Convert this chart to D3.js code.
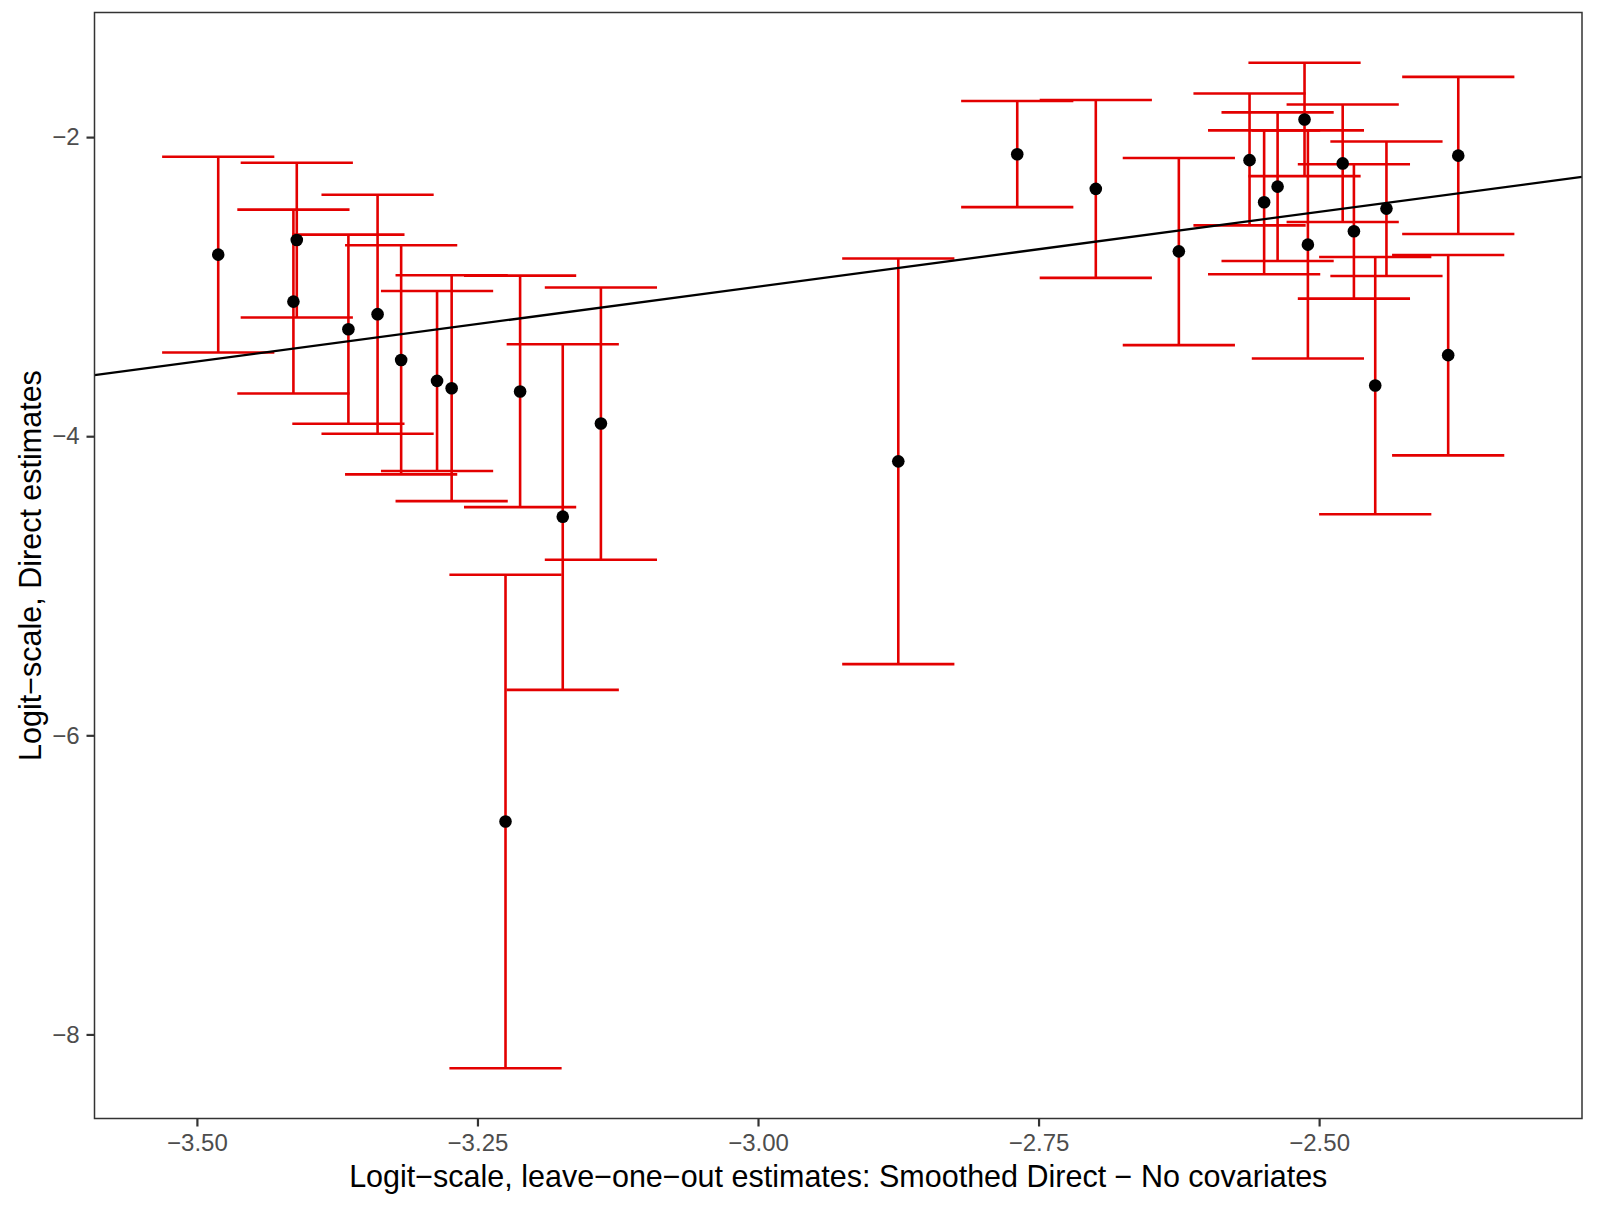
<!DOCTYPE html>
<html>
<head>
<meta charset="utf-8">
<script src="https://cdn.jsdelivr.net/npm/d3@7"></script>
<style>
  body { margin: 0; background: #fff; }
  text { font-family: "Liberation Sans", Arial, Helvetica, sans-serif; }
</style>
</head>
<body>
<svg id="chart" width="1597" height="1208"></svg>
<script>

// Leave-one-out smoothed estimates (x) against direct estimates (y), logit scale
var looEst = [-3.481, -3.414, -3.411, -3.365, -3.339, -3.318, -3.286, -3.273, -3.225,
              -3.212, -3.174, -3.140, -2.875, -2.769, -2.699, -2.625, -2.562, -2.549,
              -2.537, -2.513, -2.510, -2.479, -2.469, -2.450, -2.440, -2.385, -2.376];
var directEst = [-2.786, -3.100, -2.688, -3.285, -3.184, -3.490, -3.630, -3.679, -6.576,
                 -3.701, -4.538, -3.915, -4.168, -2.115, -2.346, -2.764, -2.154, -2.436,
                 -2.331, -1.882, -2.719, -2.176, -2.630, -3.661, -2.478, -3.458, -2.124];
var directLower = [-3.440, -3.714, -3.206, -3.917, -3.984, -4.255, -4.233, -4.434, -8.226,
                   -4.474, -5.696, -4.826, -5.524, -2.468, -2.941, -3.391, -2.590, -2.917,
                   -2.828, -2.261, -3.480, -2.568, -3.080, -4.522, -2.929, -4.128, -2.648];
var directUpper = [-2.131, -2.485, -2.171, -2.652, -2.385, -2.723, -3.029, -2.924, -4.926,
                   -2.926, -3.385, -3.006, -2.812, -1.759, -1.752, -2.140, -1.708, -1.955,
                   -1.835, -1.503, -1.955, -1.782, -2.182, -2.802, -2.029, -2.788, -1.597];

var xTicks = [-3.5, -3.25, -3.0, -2.75, -2.5];
var yTicks = [-2, -4, -6, -8];

var xTitle = "Logit\u2212scale, leave\u2212one\u2212out estimates: Smoothed Direct \u2212 No covariates";
var yTitle = "Logit\u2212scale, Direct estimates";

// half width of the error bar caps, in data units
var capHalf = 0.05;

var data = looEst.map(function(x, i) {
  return { x: x, y: directEst[i], lo: directLower[i], hi: directUpper[i] };
});

var margin = { top: 12.5, right: 15, bottom: 89.5, left: 94.5 },
    W = 1597, H = 1208,
    w = W - margin.left - margin.right,
    h = H - margin.top - margin.bottom;

// ggplot style 5% expansion of the data range
function expand(lo, hi) {
  var pad = (hi - lo) * 0.05;
  return [lo - pad, hi + pad];
}

var xDom = expand(d3.min(data, function(d) { return d.x - capHalf; }),
                  d3.max(data, function(d) { return d.x + capHalf; }));
var yDom = expand(d3.min(data, function(d) { return d.lo; }),
                  d3.max(data, function(d) { return d.hi; }));

var x = d3.scaleLinear().domain(xDom).range([0, w]);
var y = d3.scaleLinear().domain(yDom).range([h, 0]);

var svg = d3.select("#chart");

var g = svg.append("g")
  .attr("transform", "translate(" + margin.left + "," + margin.top + ")");

g.append("defs").append("clipPath")
  .attr("id", "panel-clip")
  .append("rect")
  .attr("width", w)
  .attr("height", h);

var plot = g.append("g").attr("clip-path", "url(#panel-clip)");

//** Error bars **//

var bars = plot.selectAll(".ebar")
  .data(data)
  .enter().append("g")
  .attr("class", "ebar")
  .attr("stroke", "#e30000")
  .attr("stroke-width", 2.6)
  .attr("fill", "none");

bars.append("line")
  .attr("x1", function(d) { return x(d.x); })
  .attr("x2", function(d) { return x(d.x); })
  .attr("y1", function(d) { return y(d.lo); })
  .attr("y2", function(d) { return y(d.hi); });

bars.append("line")
  .attr("x1", function(d) { return x(d.x - capHalf); })
  .attr("x2", function(d) { return x(d.x + capHalf); })
  .attr("y1", function(d) { return y(d.hi); })
  .attr("y2", function(d) { return y(d.hi); });

bars.append("line")
  .attr("x1", function(d) { return x(d.x - capHalf); })
  .attr("x2", function(d) { return x(d.x + capHalf); })
  .attr("y1", function(d) { return y(d.lo); })
  .attr("y2", function(d) { return y(d.lo); });

//** Identity line y = x **//

plot.append("path")
  .datum(xDom)
  .attr("d", d3.line()
    .x(function(v) { return x(v); })
    .y(function(v) { return y(v); }))
  .attr("stroke", "#000")
  .attr("stroke-width", 2.3)
  .attr("fill", "none");

//** Points **//

plot.selectAll(".pt")
  .data(data)
  .enter().append("circle")
  .attr("class", "pt")
  .attr("cx", function(d) { return x(d.x); })
  .attr("cy", function(d) { return y(d.y); })
  .attr("r", 6.3)
  .attr("fill", "#000");

//** Panel border **//

g.append("rect")
  .attr("width", w)
  .attr("height", h)
  .attr("fill", "none")
  .attr("stroke", "#333")
  .attr("stroke-width", 1.5);

//** Axes **//

var xAxis = g.append("g")
  .attr("transform", "translate(0," + h + ")")
  .call(d3.axisBottom(x).tickValues(xTicks).tickFormat(d3.format(".2f"))
    .tickSize(8).tickPadding(7.5));

var yAxis = g.append("g")
  .call(d3.axisLeft(y).tickValues(yTicks).tickFormat(d3.format("d"))
    .tickSize(8).tickPadding(7));

[xAxis, yAxis].forEach(function(ax) {
  ax.select(".domain").remove();
  ax.selectAll(".tick line").attr("stroke", "#333").attr("stroke-width", 2.2);
  ax.selectAll(".tick text")
    .attr("fill", "#4d4d4d")
    .style("font-size", "24px")
    .style("font-family", "'Liberation Sans', Arial, sans-serif");
});

//** Titles **//

svg.append("text")
  .attr("x", margin.left + w / 2)
  .attr("y", 1187)
  .attr("text-anchor", "middle")
  .style("font-size", "30.5px")
  .attr("fill", "#000")
  .text(xTitle);

svg.append("text")
  .attr("transform", "translate(41," + (margin.top + h / 2) + ") rotate(-90)")
  .attr("text-anchor", "middle")
  .style("font-size", "30.5px")
  .attr("fill", "#000")
  .text(yTitle);

</script>
</body>
</html>
